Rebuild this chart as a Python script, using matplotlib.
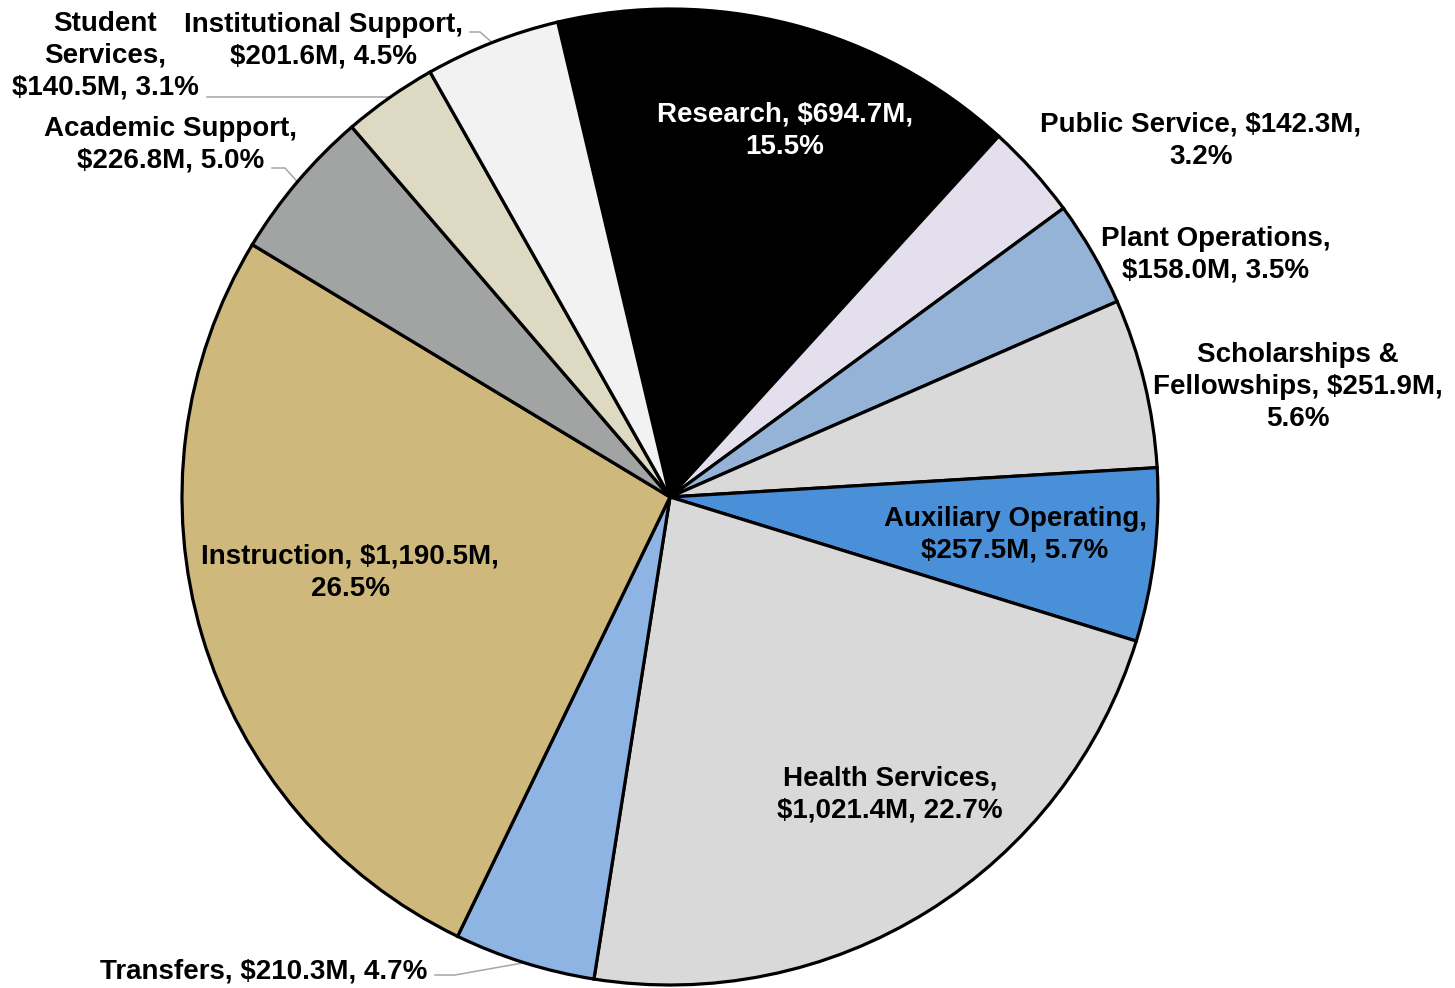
import numpy as np
import matplotlib.pyplot as plt

plt.rcParams['font.family'] = ['Liberation Sans', 'DejaVu Sans']

# expenses by function, $M (clockwise from Research)
names = ["Research", "Public Service", "Plant Operations", "Scholarships &\nFellowships",
         "Auxiliary Operating", "Health Services", "Transfers", "Instruction",
         "Academic Support", "Student\nServices", "Institutional Support"]
values = [694.7, 142.3, 158.0, 251.9, 257.5, 1021.4, 210.3, 1190.5, 226.8, 140.5, 201.6]
colors = ["#000000", "#E4DFEC", "#95B3D7", "#D9D9D9", "#4A90D9", "#D9D9D9",
          "#8DB4E2", "#CFB87C", "#A2A4A3", "#DDD9C3", "#F2F2F2"]

# line breaks between name / amount / percent
sep1 = [" ", " ", "\n", " ", "\n", "\n", " ", " ", "\n", "\n", "\n"]
sep2 = ["\n", "\n", " ", "\n", " ", " ", " ", "\n", " ", " ", " "]

# label centres in image pixels (x, y from top)
label_pos = [(785, 131), (1201, 141), (1216, 255), (1298, 387), (1015, 535),
             (890, 794), (264, 971), (350, 573), (171, 145), (105, 56), (323, 41)]
# leader lines: index -> (text end, elbow)
leaders = {6: [(435, 975), (455, 975)],
           8: [(272, 168), (285, 168)],
           9: [(207, 97), (388, 97)],
           10: [(470, 32), (480, 32)]}

W, H = 1455, 988
cx, cy, R = 670, 497, 488

fig = plt.figure(figsize=(W / 100, H / 100), dpi=100)
ax = fig.add_axes([0, 0, 1, 1])

total = sum(values)
pcts = [v / total * 100 for v in values]

wedges, _ = ax.pie(values, colors=colors, startangle=103.3, counterclock=False,
                   center=(cx, H - cy), radius=R,
                   wedgeprops=dict(edgecolor="black", linewidth=2.3))

for i, w in enumerate(wedges):
    txt = f"{names[i]},{sep1[i]}${values[i]:,.1f}M,{sep2[i]}{pcts[i]:.1f}%"
    x, y = label_pos[i]
    col = "white" if i == 0 else "black"
    ax.text(x, H - y, txt, ha="center", va="center", fontsize=20, fontweight="bold",
            color=col, linespacing=1.3)
    if i in leaders:
        mid = np.deg2rad((w.theta1 + w.theta2) / 2)
        ex, ey = cx + R * np.cos(mid), (H - cy) + R * np.sin(mid)
        pts = leaders[i]
        xs = [p[0] for p in pts] + [ex]
        ys = [H - p[1] for p in pts] + [ey]
        ax.plot(xs, ys, color="#A6A6A6", lw=1.1, zorder=0.5)

ax.set_xlim(0, W)
ax.set_ylim(0, H)
ax.set_aspect("auto")
ax.axis("off")

fig.savefig("out.png", dpi=100)
